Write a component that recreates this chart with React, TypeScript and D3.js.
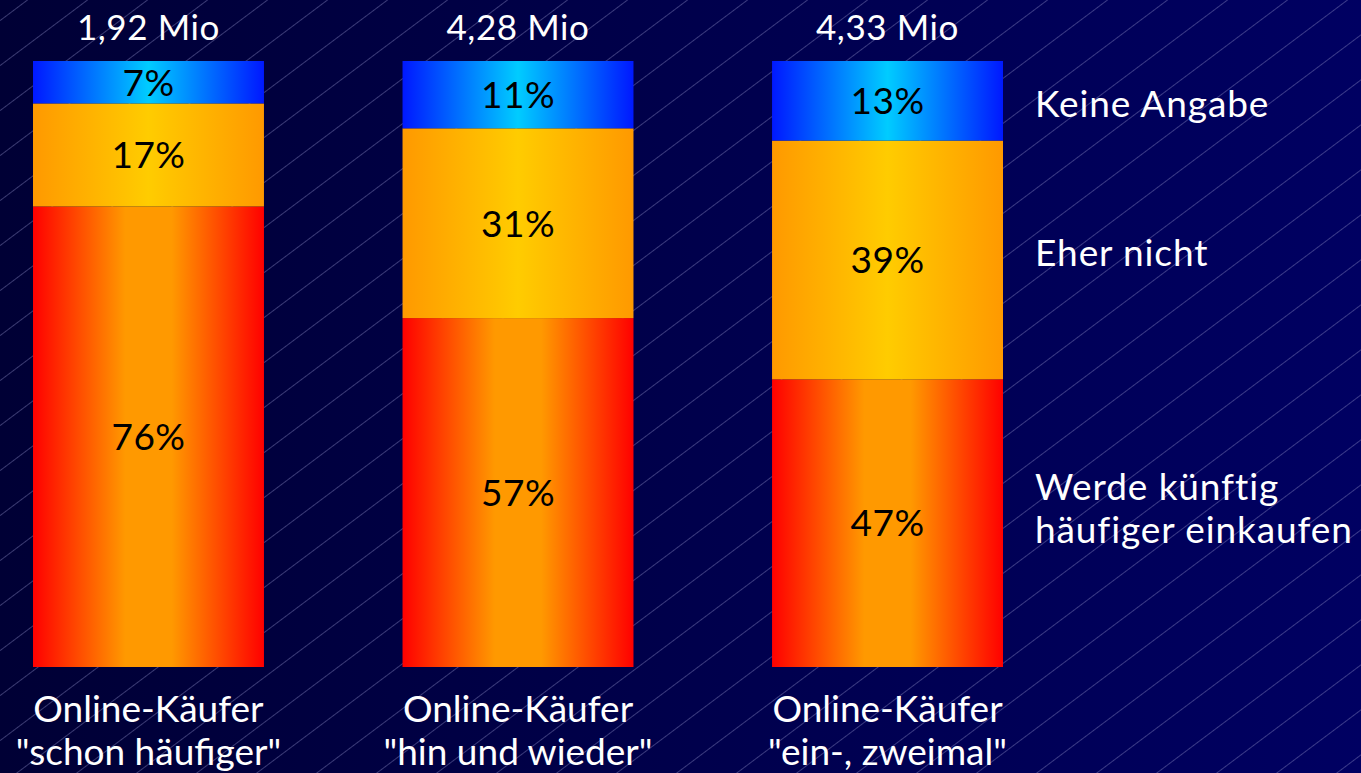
import * as d3 from "d3";
import { useEffect } from "react";

const categories = ["schon häufiger", "hin und wieder", "ein-, zweimal"];
const totals = ["1,92 Mio", "4,28 Mio", "4,33 Mio"];
// stacked from the bottom up
const series = ["Werde künftig häufiger einkaufen", "Eher nicht", "Keine Angabe"];
const werdeHaeufiger = [76, 57, 47];
const eherNicht = [17, 31, 39];
const keineAngabe = [7, 11, 13];

const legendLines = [["Werde künftig", "häufiger einkaufen"], ["Eher nicht"], ["Keine Angabe"]];

const gradStops = [
    [["0", "#ff0000"], ["0.4", "#ff9900"], ["0.6", "#ff9900"], ["1", "#ff0000"]],
    [["0", "#ff9900"], ["0.5", "#ffcc00"], ["1", "#ff9900"]],
    [["0", "#0018ff"], ["0.5", "#00ccff"], ["1", "#0018ff"]],
];

export default function App() {
    const width = 1361;
    const height = 773;
    const top = 61;
    const bottom = 667;
    const font = "'Century Gothic', Lato, 'DejaVu Sans', sans-serif";

    useEffect(() => {
        document.body.style.margin = "0";
        document.body.style.overflow = "hidden";
    }, []);

    const x = d3.scaleBand<string>()
        .domain(categories)
        .range([33, 1003])
        .paddingInner(0.375);

    const rows = categories.map((c, i) => ({
        cat: c,
        values: [werdeHaeufiger[i], eherNicht[i], keineAngabe[i]],
    }));

    // each bar is scaled to its own total (the shares don't always add to 100)
    const stacked = rows.map((r) => {
        const sum = d3.sum(r.values);
        const y = d3.scaleLinear().domain([0, sum]).range([bottom, top]);
        let acc = 0;
        return r.values.map((v, k) => {
            const y0 = acc;
            acc += v;
            return { cat: r.cat, k, v, yTop: y(acc), yBot: y(y0) };
        });
    });

    const last = stacked[stacked.length - 1];

    return (
        <svg width={width} height={height} style={{ display: "block", position: "absolute", left: 0, top: 0 }}>
            <defs>
                <linearGradient id="bg" x1="0" y1="0" x2="1" y2="0">
                    <stop offset="0" stopColor="#000035" />
                    <stop offset="1" stopColor="#000062" />
                </linearGradient>
                <pattern id="hatch" width="36" height="36" patternUnits="userSpaceOnUse"
                    patternTransform="translate(0,20) rotate(-36.87)">
                    <line x1="0" y1="0.5" x2="36" y2="0.5" stroke="#8a8ac0" strokeWidth="0.7" opacity="0.6" />
                </pattern>
                {gradStops.map((stops, k) => (
                    <linearGradient key={k} id={`seg${k}`} x1="0" y1="0" x2="1" y2="0">
                        {stops.map(([o, c]) => (
                            <stop key={o} offset={o} stopColor={c} />
                        ))}
                    </linearGradient>
                ))}
            </defs>

            <rect width={width} height={height} fill="url(#bg)" />
            <rect width={width} height={height} fill="url(#hatch)" />

            {stacked.map((segs, i) => (
                <g key={categories[i]}>
                    {segs.map((s) => (
                        <rect
                            key={s.k}
                            x={x(s.cat)}
                            y={s.yTop}
                            width={x.bandwidth()}
                            height={s.yBot - s.yTop}
                            fill={`url(#seg${s.k})`}
                        />
                    ))}
                    {segs.map((s) => (
                        <text
                            key={"t" + s.k}
                            x={x(s.cat)! + x.bandwidth() / 2}
                            y={(s.yTop + s.yBot) / 2}
                            dy="0.36em"
                            textAnchor="middle"
                            fontFamily={font}
                            fontSize={37}
                            letterSpacing={0.5}
                            fill="#000"
                        >
                            {s.v}%
                        </text>
                    ))}
                    <text
                        x={x(categories[i])! + x.bandwidth() / 2}
                        y={40}
                        textAnchor="middle"
                        fontFamily={font}
                        fontSize={35}
                        letterSpacing={0.6}
                        fill="#fff"
                    >
                        {totals[i]}
                    </text>
                    <text
                        x={x(categories[i])! + x.bandwidth() / 2}
                        y={722}
                        textAnchor="middle"
                        fontFamily={font}
                        fontSize={37}
                        fill="#fff"
                    >
                        <tspan x={x(categories[i])! + x.bandwidth() / 2}>Online-Käufer</tspan>
                        <tspan x={x(categories[i])! + x.bandwidth() / 2} dy={43}>"{categories[i]}"</tspan>
                    </text>
                </g>
            ))}

            {/* legend next to the last bar */}
            {last.map((s) => {
                const lines = legendLines[s.k];
                const mid = (s.yTop + s.yBot) / 2 + (s.k === 0 ? -15 : s.k === 1 ? -7 : 3);
                const startY = mid - ((lines.length - 1) * 43) / 2;
                return (
                    <text
                        key={series[s.k]}
                        x={1035}
                        y={startY}
                        fontFamily={font}
                        fontSize={37}
                        letterSpacing={0.9}
                        fill="#fff"
                    >
                        {lines.map((l, j) => (
                            <tspan key={l} x={1035} dy={j === 0 ? "0.36em" : 43}>{l}</tspan>
                        ))}
                    </text>
                );
            })}
        </svg>
    );
}
